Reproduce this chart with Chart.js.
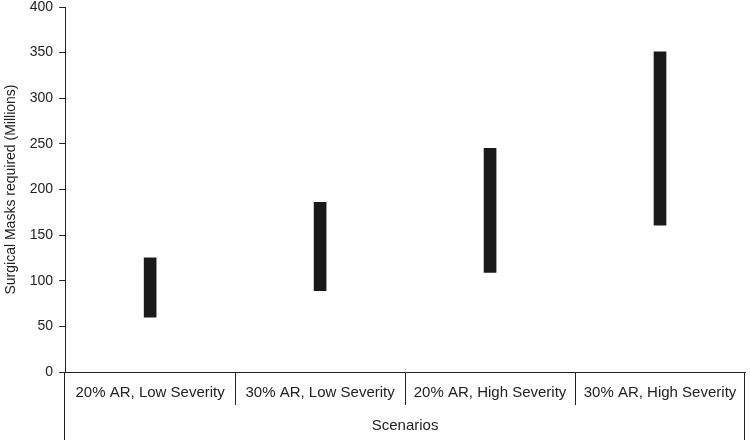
<!DOCTYPE html>
<html>
<head>
<meta charset="utf-8">
<script src="https://cdn.jsdelivr.net/npm/chart.js@4/dist/chart.umd.min.js"></script>
<style>
  html, body { margin: 0; padding: 0; background: #fff; }
  #wrap { width: 750px; height: 440px; }
</style>
</head>
<body>
<div id="wrap"><canvas id="masks"></canvas></div>
<script>
// scenarios and the low / high estimate of masks (millions)
const scenarios = ['20% AR, Low Severity', '30% AR, Low Severity', '20% AR, High Severity', '30% AR, High Severity'];
const lowMasks = [60, 89, 109, 161];
const highMasks = [125, 186, 245, 351];

const ink = '#222';
const fontFamily = '"Liberation Sans", Arial, Helvetica, sans-serif';

// the outer edges of the category box run down to the bottom of the page
const edgeLines = {
    id: 'edgeLines',
    afterDraw(chart) {
        const ctx = chart.ctx;
        const area = chart.chartArea;
        const top = Math.floor(area.bottom);
        const h = chart.height - top;
        ctx.save();
        ctx.fillStyle = ink;
        ctx.fillRect(Math.round(area.left) - 1, top, 1, h);
        ctx.fillRect(Math.round(area.right) - 1, top, 1, h);
        ctx.restore();
    }
};

new Chart(document.getElementById('masks').getContext('2d'), {
    type: 'bar',
    data: {
        labels: scenarios,
        datasets: [{
            label: 'Surgical masks',
            data: lowMasks.map((lo, i) => [lo, highMasks[i]]),
            backgroundColor: '#1a1a1a',
            borderWidth: 0,
            barThickness: 12
        }]
    },
    options: {
        responsive: true,
        maintainAspectRatio: false,
        animation: false,
        layout: {
            padding: { left: 3, right: 5, top: 7, bottom: 0 }
        },
        plugins: {
            legend: { display: false },
            tooltip: { enabled: false }
        },
        scales: {
            x: {
                offset: true,
                border: { display: true, color: ink, width: 1 },
                grid: {
                    offset: true,
                    drawOnChartArea: false,
                    drawTicks: true,
                    tickLength: 33,
                    // outer edges are drawn by the plugin
                    color: c => (c.index > 0 && c.index < scenarios.length) ? ink : 'rgba(0,0,0,0)',
                    lineWidth: 1
                },
                ticks: {
                    color: ink,
                    padding: -21,
                    maxRotation: 0,
                    font: { family: fontFamily, size: 15 }
                },
                title: {
                    display: true,
                    text: 'Scenarios',
                    color: ink,
                    padding: { top: 36, bottom: 5 },
                    font: { family: fontFamily, size: 15 }
                }
            },
            y: {
                min: 0,
                max: 400,
                afterFit: scale => { scale.paddingTop = 0; },
                border: { display: true, color: ink, width: 1 },
                grid: {
                    drawOnChartArea: false,
                    drawTicks: true,
                    tickLength: 6,
                    color: ink
                },
                ticks: {
                    stepSize: 50,
                    color: ink,
                    padding: 6,
                    font: { family: fontFamily, size: 14 }
                },
                title: {
                    display: true,
                    text: 'Surgical Masks required (Millions)',
                    color: ink,
                    padding: { top: 0, bottom: 4 },
                    font: { family: fontFamily, size: 14 }
                }
            }
        }
    },
    plugins: [edgeLines]
});
</script>
</body>
</html>
